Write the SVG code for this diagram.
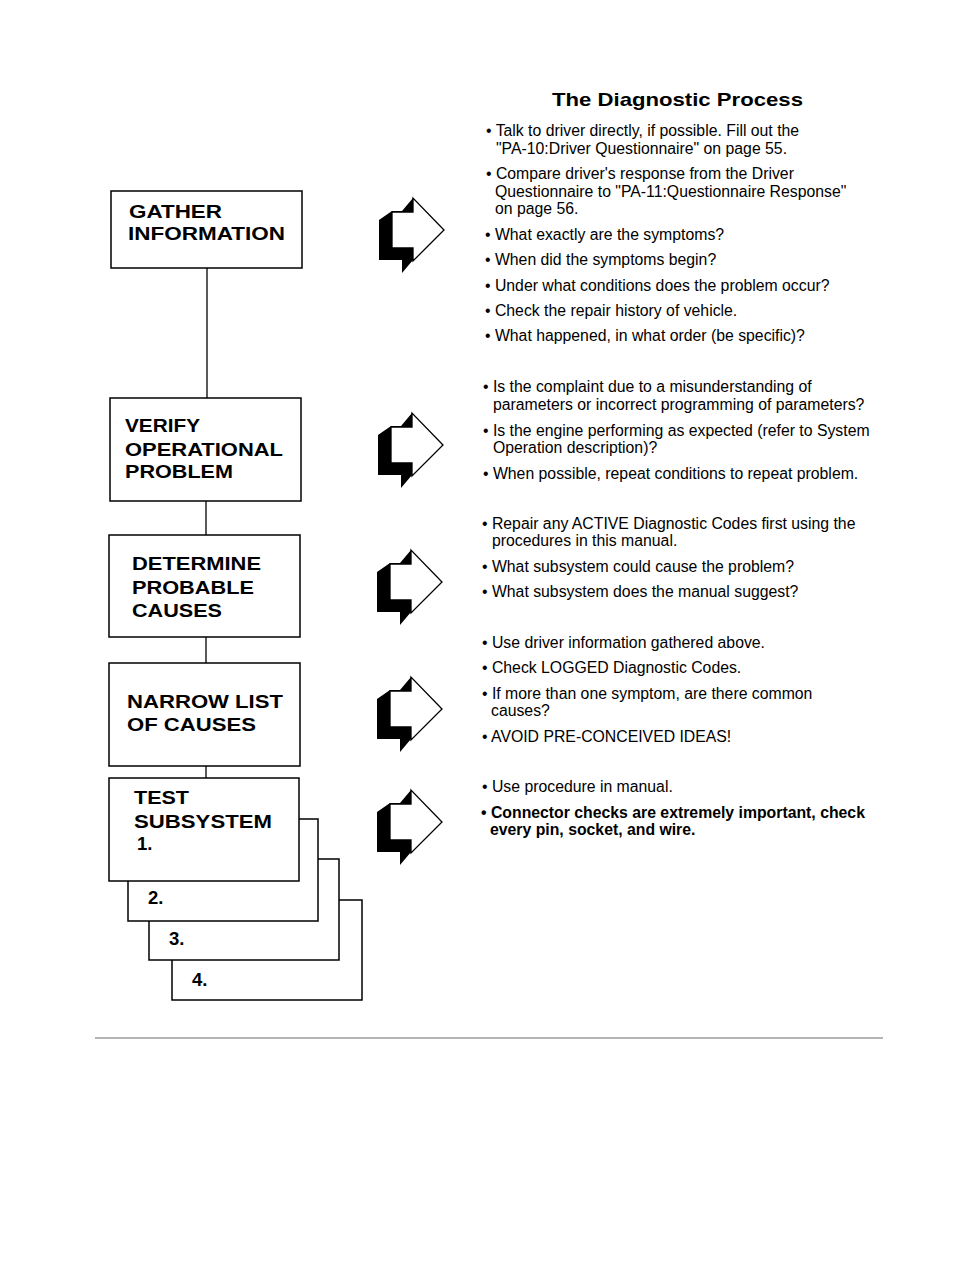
<svg xmlns="http://www.w3.org/2000/svg" width="979" height="1267" viewBox="0 0 979 1267">
<style>
.box{fill:#fff;stroke:#000;stroke-width:1.5}
.lbl{font-family:"Liberation Sans",Arial,sans-serif;font-weight:bold;font-size:18.5px;fill:#000}
.txt{font-family:"Liberation Sans",Arial,sans-serif;font-size:15.8px;fill:#000}
.bold{font-weight:bold}
.title{font-family:"Liberation Sans",Arial,sans-serif;font-weight:bold;font-size:19px;fill:#000}
.conn{stroke:#000;stroke-width:1.3;fill:none}
</style>
<defs>
<g id="arrow">
<polygon points="0,22 13,13 23,13 34,0 34,62 23,75 23,62 0,62" fill="#000"/>
<polygon points="13,14 34,14 34,0 65,32 34,63 34,50 13,50" fill="#fff" stroke="#000" stroke-width="1.3" stroke-linejoin="miter"/>
</g>
</defs>
<rect width="979" height="1267" fill="#fff"/>

<g id="connectors">
<line class="conn" x1="207" y1="268" x2="207" y2="398"/>
<line class="conn" x1="206" y1="501" x2="206" y2="535"/>
<line class="conn" x1="206" y1="637" x2="206" y2="663"/>
<line class="conn" x1="206" y1="766" x2="206" y2="778"/>
</g>

<g id="gather">
<rect class="box" x="111" y="191" width="191" height="77"/>
<text class="lbl" x="129" y="218" textLength="93" lengthAdjust="spacingAndGlyphs">GATHER</text>
<text class="lbl" x="128" y="240" textLength="157" lengthAdjust="spacingAndGlyphs">INFORMATION</text>
</g>

<g id="verify">
<rect class="box" x="110" y="398" width="191" height="103"/>
<text class="lbl" x="125" y="432" textLength="75" lengthAdjust="spacingAndGlyphs">VERIFY</text>
<text class="lbl" x="125" y="456" textLength="158" lengthAdjust="spacingAndGlyphs">OPERATIONAL</text>
<text class="lbl" x="125" y="478" textLength="108" lengthAdjust="spacingAndGlyphs">PROBLEM</text>
</g>

<g id="determine">
<rect class="box" x="109" y="535" width="191" height="102"/>
<text class="lbl" x="132" y="570" textLength="129" lengthAdjust="spacingAndGlyphs">DETERMINE</text>
<text class="lbl" x="132" y="594" textLength="122" lengthAdjust="spacingAndGlyphs">PROBABLE</text>
<text class="lbl" x="132" y="617" textLength="90" lengthAdjust="spacingAndGlyphs">CAUSES</text>
</g>

<g id="narrow">
<rect class="box" x="109" y="663" width="191" height="103"/>
<text class="lbl" x="127" y="708" textLength="156" lengthAdjust="spacingAndGlyphs">NARROW LIST</text>
<text class="lbl" x="127" y="731" textLength="129" lengthAdjust="spacingAndGlyphs">OF CAUSES</text>
</g>

<g id="test4">
<rect class="box" x="172" y="900" width="190" height="100"/>
<text class="lbl" x="192" y="986">4.</text>
</g>
<g id="test3">
<rect class="box" x="149" y="859" width="190" height="101"/>
<text class="lbl" x="169" y="945">3.</text>
</g>
<g id="test2">
<rect class="box" x="128" y="819" width="190" height="102"/>
<text class="lbl" x="148" y="904">2.</text>
</g>
<g id="test1">
<rect class="box" x="109" y="778" width="190" height="103"/>
<text class="lbl" x="134" y="804" textLength="55" lengthAdjust="spacingAndGlyphs">TEST</text>
<text class="lbl" x="134" y="828" textLength="138" lengthAdjust="spacingAndGlyphs">SUBSYSTEM</text>
<text class="lbl" x="137" y="850">1.</text>
</g>

<g id="arrows">
<use href="#arrow" x="379" y="198"/>
<use href="#arrow" x="378" y="413"/>
<use href="#arrow" x="377" y="550"/>
<use href="#arrow" x="377" y="677"/>
<use href="#arrow" x="377" y="790"/>
</g>

<g id="title">
<text class="title" x="552" y="106" textLength="251" lengthAdjust="spacingAndGlyphs">The Diagnostic Process</text>
</g>

<g id="notes1">
<text class="txt" x="486" y="136">• Talk to driver directly, if possible. Fill out the</text>
<text class="txt" x="496" y="154">"PA-10:Driver Questionnaire" on page 55.</text>
<text class="txt" x="486" y="179">• Compare driver's response from the Driver</text>
<text class="txt" x="495" y="197">Questionnaire to "PA-11:Questionnaire Response"</text>
<text class="txt" x="495" y="214">on page 56.</text>
<text class="txt" x="485" y="240">• What exactly are the symptoms?</text>
<text class="txt" x="485" y="265">• When did the symptoms begin?</text>
<text class="txt" x="485" y="291">• Under what conditions does the problem occur?</text>
<text class="txt" x="485" y="316">• Check the repair history of vehicle.</text>
<text class="txt" x="485" y="341">• What happened, in what order (be specific)?</text>
</g>

<g id="notes2">
<text class="txt" x="483" y="392">• Is the complaint due to a misunderstanding of</text>
<text class="txt" x="493" y="410">parameters or incorrect programming of parameters?</text>
<text class="txt" x="483" y="436">• Is the engine performing as expected (refer to System</text>
<text class="txt" x="493" y="453">Operation description)?</text>
<text class="txt" x="483" y="479">• When possible, repeat conditions to repeat problem.</text>
</g>

<g id="notes3">
<text class="txt" x="482" y="529">• Repair any ACTIVE Diagnostic Codes first using the</text>
<text class="txt" x="492" y="546">procedures in this manual.</text>
<text class="txt" x="482" y="572">• What subsystem could cause the problem?</text>
<text class="txt" x="482" y="597">• What subsystem does the manual suggest?</text>
</g>

<g id="notes4">
<text class="txt" x="482" y="648">• Use driver information gathered above.</text>
<text class="txt" x="482" y="673">• Check LOGGED Diagnostic Codes.</text>
<text class="txt" x="482" y="699">• If more than one symptom, are there common</text>
<text class="txt" x="491" y="716">causes?</text>
<text class="txt" x="482" y="742">• AVOID PRE-CONCEIVED IDEAS!</text>
</g>

<g id="notes5">
<text class="txt" x="482" y="792">• Use procedure in manual.</text>
<text class="txt bold" x="481" y="818">• Connector checks are extremely important, check</text>
<text class="txt bold" x="490" y="835">every pin, socket, and wire.</text>
</g>

<line x1="95" y1="1038" x2="883" y2="1038" stroke="#b5b5b5" stroke-width="2"/>
</svg>
